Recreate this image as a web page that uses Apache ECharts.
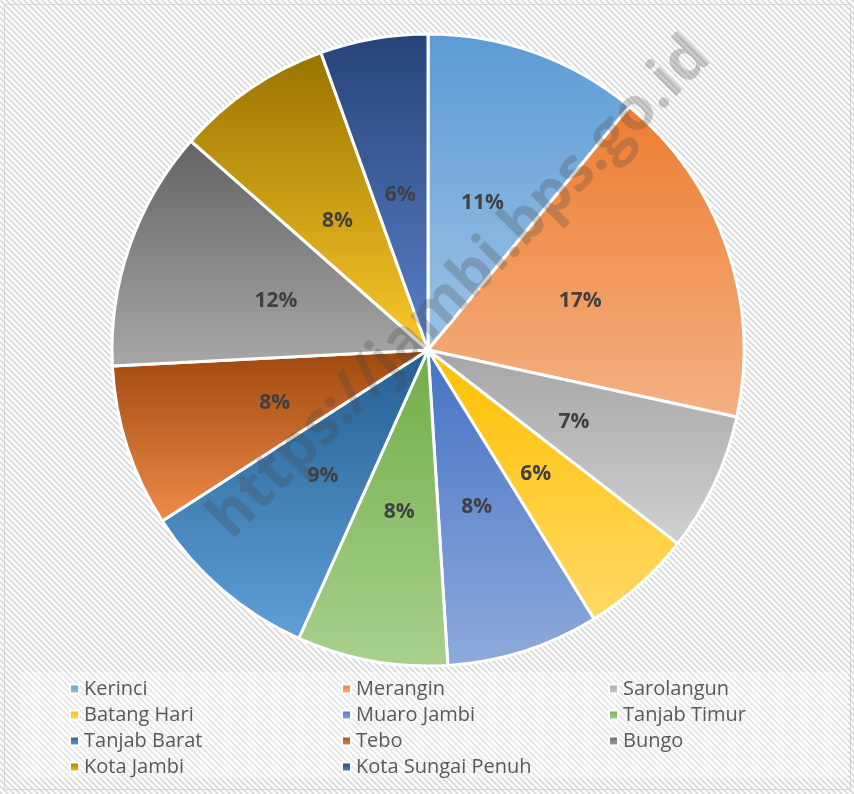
<!DOCTYPE html>
<html>
<head>
<meta charset="utf-8">
<script src="https://cdn.jsdelivr.net/npm/echarts@6/dist/echarts.min.js"></script>
<style>
html,body{margin:0;padding:0;background:#fff;}
#chart{width:854px;height:794px;}
</style>
</head>
<body>
<div id="chart"></div>
<script>
// ---- data ----
var categories = ['Kerinci','Merangin','Sarolangun','Batang Hari','Muaro Jambi','Tanjab Timur','Tanjab Barat','Tebo','Bungo','Kota Jambi','Kota Sungai Penuh'];
var shares = [11.0, 17.4, 7.1, 5.7, 7.8, 7.7, 9.2, 8.3, 12.3, 8.0, 5.5];
var legendCol1 = ['Kerinci','Batang Hari','Tanjab Barat','Kota Jambi'];
var legendCol2 = ['Merangin','Muaro Jambi','Tebo','Kota Sungai Penuh'];
var legendCol3 = ['Sarolangun','Tanjab Timur','Bungo'];
var watermarkText = 'https://jambi.bps.go.id';

// ---- styles ----
var topColors = ['#5B9BD5','#ED7D31','#A5A5A5','#FFC000','#4472C4','#70AD47','#255E91','#9E480E','#636363','#997300','#264478'];
var bottomColors = ['#9DC3E6','#F4B183','#D0D0D0','#FFD966','#8FAADC','#A9D18E','#5FA0D8','#EE8C4A','#A8A8A8','#FBC82A','#5A80C9'];

function grad(i){
  return new echarts.graphic.LinearGradient(0,0,0,1,[
    {offset:0,color:topColors[i]},{offset:1,color:bottomColors[i]}
  ]);
}

// hatched background pattern
var tile = document.createElement('canvas');
tile.width = 6; tile.height = 6;
var g = tile.getContext('2d');
g.fillStyle = '#ffffff'; g.fillRect(0,0,6,6);
g.strokeStyle = '#dcdcdc'; g.lineWidth = 2;
g.beginPath();
g.moveTo(-1,-1); g.lineTo(7,7);
g.moveTo(-1,5); g.lineTo(1,7);
g.moveTo(5,-1); g.lineTo(7,1);
g.stroke();

var pieData = categories.map(function(name,i){
  return {name:name, value:shares[i], itemStyle:{color:grad(i)}};
});

var legendBase = {
  orient:'vertical', top:674, itemWidth:9, itemHeight:9, itemGap:6,
  icon:'rect',
  textStyle:{fontFamily:'Open Sans', fontSize:20, color:'#595959', lineHeight:20}
};

var chart = echarts.init(document.getElementById('chart'), null, {renderer:'canvas'});
chart.setOption({
  animation:false,
  graphic:[
    {type:'rect', z:-10, silent:true, shape:{x:0,y:0,width:854,height:794}, style:{fill:{image:tile, repeat:'repeat'}}},
    {type:'rect', z:-9, silent:true, shape:{x:4.5,y:4.5,width:846,height:785}, style:{fill:null, stroke:'#d4d4d4', lineWidth:1}},
    {type:'rect', z:-8, silent:true, shape:{x:20,y:672,width:828,height:106}, style:{fill:'rgba(255,255,255,0.35)'}},
    {type:'text', z:100, silent:true, x:460, y:288, rotation:Math.PI/4,
     style:{text:watermarkText, fontFamily:'Open Sans', fontWeight:'bold', fontSize:60, fill:'rgba(70,70,70,0.26)', align:'center', verticalAlign:'middle'}}
  ],
  legend:[
    Object.assign({}, legendBase, {left:64, data:legendCol1}),
    Object.assign({}, legendBase, {left:336, data:legendCol2}),
    Object.assign({}, legendBase, {left:603, data:legendCol3})
  ],
  series:[{
    type:'pie',
    center:[428,350],
    radius:[0,316],
    startAngle:90,
    clockwise:true,
    avoidLabelOverlap:false,
    itemStyle:{borderColor:'#ffffff', borderWidth:3},
    label:{
      show:true, position:'inside', offset:[0,4],
      formatter:function(p){return Math.round(p.percent)+'%';},
      fontFamily:'Open Sans', fontWeight:'bold', fontSize:21, color:'#404040'
    },
    labelLine:{show:false},
    emphasis:{disabled:true},
    data:pieData
  }]
});
</script>
</body>
</html>
